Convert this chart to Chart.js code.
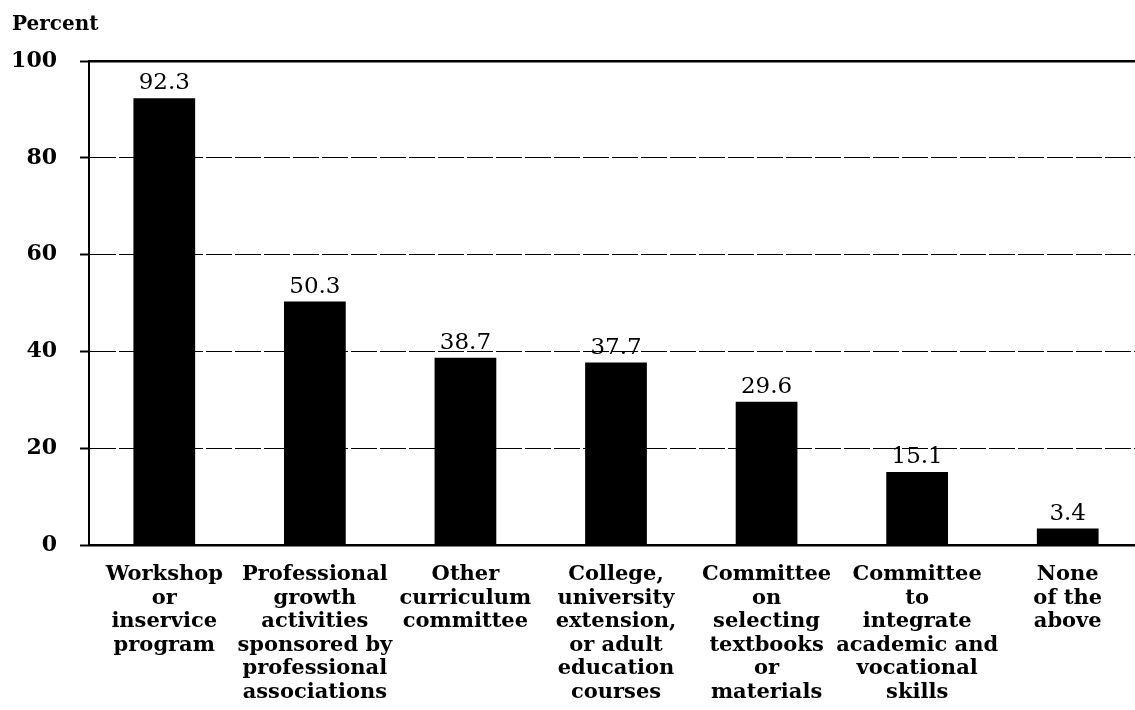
<!DOCTYPE html>
<html>
<head>
<meta charset="utf-8">
<script src="https://cdn.jsdelivr.net/npm/chart.js@4.4.0/dist/chart.umd.min.js"></script>
<style>
  html, body { margin: 0; padding: 0; background: #fff; overflow: hidden; }
  #wrap { position: relative; width: 1150px; height: 710px; }
</style>
</head>
<body>
<div id="wrap"><canvas id="chart"></canvas></div>
<script>
const axisTitle = 'Percent';

const categories = [
  ['Workshop', 'or', 'inservice', 'program'],
  ['Professional', 'growth', 'activities', 'sponsored by', 'professional', 'associations'],
  ['Other', 'curriculum', 'committee'],
  ['College,', 'university', 'extension,', 'or adult', 'education', 'courses'],
  ['Committee', 'on', 'selecting', 'textbooks', 'or', 'materials'],
  ['Committee', 'to', 'integrate', 'academic and', 'vocational', 'skills'],
  ['None', 'of the', 'above']
];

const percents = [92.3, 50.3, 38.7, 37.7, 29.6, 15.1, 3.4];

const yTicks = [0, 20, 40, 60, 80, 100];

// value labels over the bars + the "Percent" heading
const barLabels = {
  id: 'barLabels',
  afterDatasetsDraw(chart) {
    const ctx = chart.ctx;
    const meta = chart.getDatasetMeta(0);
    ctx.save();
    ctx.fillStyle = '#000';
    ctx.textAlign = 'center';
    ctx.textBaseline = 'alphabetic';
    ctx.font = '23px "DejaVu Serif"';
    meta.data.forEach((bar, i) => {
      ctx.fillText(percents[i].toFixed(1), bar.x, bar.y - 9);
    });
    ctx.textAlign = 'left';
    ctx.font = 'bold 20px "DejaVu Serif"';
    ctx.fillText(axisTitle, 12, 30);
    ctx.restore();
  }
};

new Chart(document.getElementById('chart'), {
  type: 'bar',
  data: {
    labels: categories,
    datasets: [{
      data: percents,
      backgroundColor: '#000',
      borderWidth: 0,
      barPercentage: 0.41,
      categoryPercentage: 1
    }]
  },
  options: {
    responsive: true,
    maintainAspectRatio: false,
    animation: false,
    layout: { padding: { top: 61, right: 7, left: 0, bottom: 0 } },
    plugins: {
      legend: { display: false },
      tooltip: { enabled: false }
    },
    scales: {
      x: {
        position: 'bottom',
        grid: { display: false, drawTicks: false },
        border: { display: true, color: '#000', width: 2.5 },
        ticks: {
          color: '#000',
          padding: 18,
          maxRotation: 0,
          autoSkip: false,
          font: { family: 'DejaVu Serif', weight: 'bold', size: 21, lineHeight: '23.5px' }
        },
        afterFit(s) { s.height = 165; }
      },
      xTop: {
        type: 'linear',
        position: 'top',
        grid: { display: false, drawTicks: false },
        ticks: { display: false },
        border: { display: true, color: '#000', width: 2.5 },
        afterFit(s) { s.height = 0; }
      },
      y: {
        min: 0,
        max: 100,
        afterBuildTicks(s) { s.ticks = yTicks.map(v => ({ value: v })); },
        grid: {
          color: ctx => (ctx.tick && (ctx.tick.value === 0 || ctx.tick.value === 100)) ? 'rgba(0,0,0,0)' : '#000',
          lineWidth: 1,
          tickColor: '#000',
          tickLength: 9,
          tickWidth: 2
        },
        border: { display: true, color: '#000', width: 2, dash: [26, 3] },
        ticks: {
          color: '#000',
          padding: 23,
          font: { family: 'DejaVu Serif', weight: 'bold', size: 22 }
        },
        afterFit(s) { s.width = 89; }
      }
    }
  },
  plugins: [barLabels]
});
</script>
</body>
</html>
